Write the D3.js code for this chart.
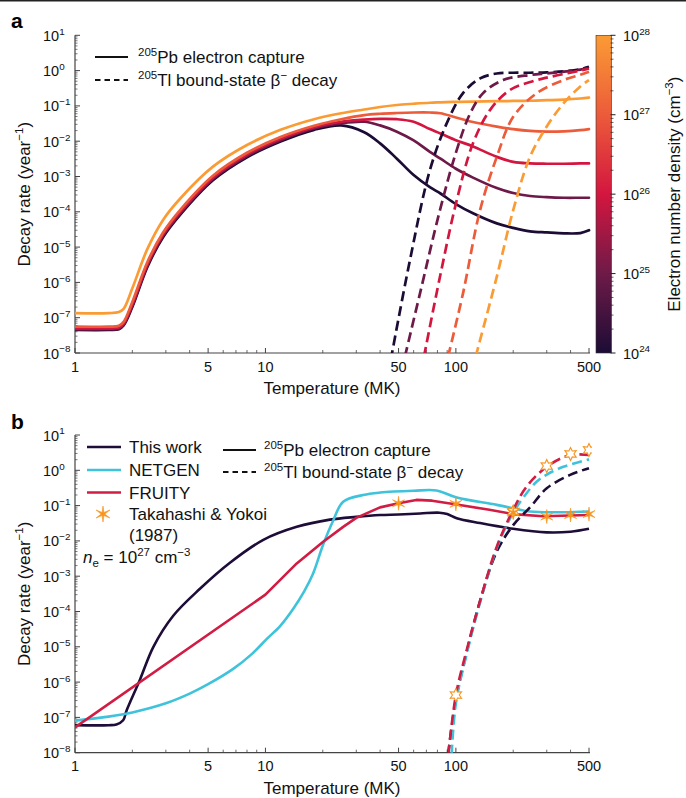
<!DOCTYPE html>
<html><head><meta charset="utf-8">
<script src="https://cdn.jsdelivr.net/npm/d3@7"></script>
<style>
body{margin:0;background:#fff}
svg{display:block;font-family:"Liberation Sans",Arial,Helvetica,sans-serif}
</style>
</head><body>
<svg id="c" width="686" height="798"></svg>
<script>
// ---------------- DATA ----------------
const densities = [1e24, 1e25, 1e26, 1e27, 1e28];
const densityColors = ["#1c0c35", "#6e1a48", "#d3163f", "#ec5b3a", "#fb9b34"];

// Panel a: 205Pb electron capture (solid), shared temperature grid (MK)
const tempA = [1,1.5,1.7,1.8,2.0,2.4,2.9,3.6,5.3,8,12,18,25,33,40,49,60,73,83,100,123,164,200,245,300,370,450,500];
const ecNe24 = [4.5e-8,4.5e-8,4.7e-8,6.0e-8,2.0e-7,2.75e-6,1.9e-5,8.7e-5,7.8e-4,3.5e-3,9.8e-3,2.1e-2,2.8e-2,1.8e-2,8.7e-3,3.2e-3,1.1e-3,5.0e-4,3.3e-4,1.66e-4,9.1e-5,4.7e-5,3.5e-5,2.8e-5,2.6e-5,2.45e-5,2.5e-5,3.0e-5];
const ecNe25 = [4.7e-8,4.7e-8,4.9e-8,6.3e-8,2.2e-7,3.0e-6,2.1e-5,9.5e-5,8.5e-4,3.8e-3,1.07e-2,2.3e-2,3.2e-2,3.55e-2,2.8e-2,1.86e-2,1.05e-2,5.0e-3,3.2e-3,1.66e-3,9.3e-4,4.7e-4,3.4e-4,2.8e-4,2.6e-4,2.5e-4,2.5e-4,2.5e-4];
const ecNe26 = [5.0e-8,5.0e-8,5.25e-8,6.8e-8,2.4e-7,3.3e-6,2.3e-5,1.05e-4,9.3e-4,4.2e-3,1.17e-2,2.5e-2,3.55e-2,4.1e-2,4.3e-2,4.2e-2,3.55e-2,2.2e-2,1.66e-2,1.07e-2,7.1e-3,3.6e-3,2.6e-3,2.35e-3,2.3e-3,2.3e-3,2.35e-3,2.35e-3];
const ecNe27 = [5.6e-8,5.6e-8,5.9e-8,7.6e-8,2.8e-7,3.8e-6,2.6e-5,1.2e-4,1.05e-3,4.7e-3,1.32e-2,2.75e-2,4.2e-2,5.5e-2,6.0e-2,6.3e-2,6.5e-2,6.5e-2,6.2e-2,4.7e-2,3.5e-2,2.6e-2,2.2e-2,1.95e-2,1.86e-2,1.9e-2,2.05e-2,2.2e-2];
const ecNe28 = [1.35e-7,1.35e-7,1.45e-7,1.78e-7,6.8e-7,8.9e-6,5.9e-5,2.5e-4,1.9e-3,7.8e-3,2.1e-2,4.2e-2,6.2e-2,7.9e-2,9.3e-2,0.106,0.115,0.123,0.126,0.130,0.133,0.136,0.138,0.140,0.145,0.151,0.162,0.171];

// Panel a: 205Tl bound-state beta decay (dashed)
const bsT24 = [45.5,57.4,73,89.5,109,134,164,200,245,300,370,450,500];
const bsNe24 = [6.3e-9,4.3e-6,1.5e-3,3.2e-2,0.23,0.60,0.83,0.87,0.87,0.89,0.95,1.10,1.28];
const bsT25 = [54,64.8,82.5,101,119,139,177,245,300,370,450,500];
const bsNe25 = [7.9e-9,4.9e-7,1.12e-4,5.6e-3,6.2e-2,0.23,0.54,0.75,0.83,0.93,1.07,1.20];
const bsT26 = [68,82.5,101,123,151,192,266,300,370,450,500];
const bsNe26 = [7.9e-9,1.45e-6,2.1e-4,8.7e-3,7.6e-2,0.28,0.54,0.63,0.81,1.0,1.15];
const bsT27 = [91,109,134,164,200,266,367,450,500];
const bsNe27 = [7.9e-9,4.9e-7,1.12e-4,3.6e-3,4.9e-2,0.23,0.54,0.76,0.93];
const bsT28 = [127,164,200,245,300,367,449,500];
const bsNe28 = [7.9e-9,1.45e-6,1.12e-4,3.6e-3,2.6e-2,0.117,0.35,0.54];

// Panel b (n_e = 1e27)
const twT = [1,1.5,1.65,1.79,1.87,2.19,2.58,3.28,4.53,6.51,9.75,14.6,21.8,30,40,50,65,82,90,101,134,200,300,400,500];
const twEC = [6.0e-8,6.0e-8,6.3e-8,8.3e-8,1.62e-7,1.15e-6,1.0e-5,7.6e-5,4.4e-4,2.4e-3,1.07e-2,2.5e-2,4.0e-2,4.8e-2,5.4e-2,5.6e-2,6.0e-2,6.3e-2,5.75e-2,4.4e-2,3.2e-2,2.2e-2,1.74e-2,1.82e-2,2.2e-2];
const ngT = [1,1.5,2.0,3.0,4.0,5.0,6.8,8.5,10.2,12,14,16,17.8,20.1,22.7,25.6,32.6,40,60,79,101,164,245,367,500];
const ngEC = [8.1e-8,1.05e-7,1.38e-7,2.5e-7,4.7e-7,8.7e-7,2.4e-6,6.3e-6,1.7e-5,4.0e-5,1.2e-4,3.8e-4,1.2e-3,7.9e-3,3.8e-2,0.129,0.20,0.234,0.263,0.269,0.17,0.105,6.8e-2,6.5e-2,6.8e-2];
const frT = [1,10,14.6,20.1,25.6,30,40,50,62,75,101,150,200,287,400,500];
const frEC = [5.2e-8,3.0e-4,2.3e-3,9.5e-3,2.5e-2,4.5e-2,8.9e-2,0.116,0.145,0.138,0.107,7.6e-2,5.75e-2,5.0e-2,5.25e-2,5.4e-2];
const frBsT = [91.3,100,114,134,164,200,235,300,398,500];
const frBs = [8.9e-9,4.3e-7,8.1e-6,2.0e-4,6.9e-3,7.6e-2,0.343,1.26,2.7,2.7];
const ngBsT = [95,100,114,134,164,200,235,266,300,367,500];
const ngBs = [8.9e-9,2.5e-7,6.3e-6,1.8e-4,6.3e-3,6.3e-2,0.224,0.48,0.76,1.26,2.04];
const twBsT = [91,100,114,134,164,200,245,300,398,500];
const twBs = [8.9e-9,3.2e-7,7.1e-6,2.0e-4,5.0e-3,2.8e-2,8.9e-2,0.31,0.74,1.15];
const tyEcT = [50,100,200,300,400,500];
const tyEc = [0.116,0.112,6.3e-2,4.9e-2,5.4e-2,5.75e-2];
const tyBsT = [100,200,300,400,500];
const tyBs = [4.3e-7,6.8e-2,1.32,2.9,3.76];

const xTicks = [1,5,10,50,100,500];
const yDecades = [-8,-7,-6,-5,-4,-3,-2,-1,0,1];
const cbDecades = [24,25,26,27,28];

// ---------------- LAYOUT ----------------
const svg = d3.select("#c");
const X0 = 75, X1 = 589;
const panels = {a:{top:35.3, bottom:353}, b:{top:435, bottom:752.7}};
const x = d3.scaleLog().domain([1,500]).range([X0,X1]);
const yA = d3.scaleLog().domain([1e-8,10]).range([panels.a.bottom, panels.a.top]);
const yB = d3.scaleLog().domain([1e-8,10]).range([panels.b.bottom, panels.b.top]);
const cScale = d3.scaleLog().domain(densities).range(densityColors).interpolate(d3.interpolateRgb);

const C_TW = "#1e0d38", C_NG = "#3fc3db", C_FR = "#d11c44", C_TY = "#f7941d";
const axisColor = "#444";
const smooth = d3.curveCatmullRom.alpha(0.5);

svg.append("rect").attr("x",0).attr("y",0).attr("width",686).attr("height",1.5).attr("fill","#222");

function zip(ts, vs){ return ts.map((t,i)=>({t, v:vs[i]})); }

function supText(g, xx, yy, base, sup, size, anchor){
  const t = g.append("text").attr("x",xx).attr("y",yy).attr("font-size",size).attr("fill","#111")
    .attr("text-anchor",anchor||"start");
  t.append("tspan").text(base);
  t.append("tspan").attr("font-size",size*0.68).attr("dy",-size*0.42).text(sup);
  return t;
}

function drawAxes(y, p, id){
  const g = svg.append("g");
  g.append("line").attr("x1",X0).attr("x2",X1+1).attr("y1",p.bottom).attr("y2",p.bottom)
    .attr("stroke",axisColor).attr("stroke-width",1.2);
  g.append("line").attr("x1",X0).attr("x2",X0).attr("y1",p.top).attr("y2",p.bottom)
    .attr("stroke",axisColor).attr("stroke-width",1.2);
  const xMinor = [];
  [1,10,100].forEach(d=>{ for(let k=2;k<=9;k++){ const v=d*k; if(v<500 && !xTicks.includes(v)) xMinor.push(v);} });
  g.selectAll(null).data(xTicks).enter().append("line")
    .attr("x1",d=>x(d)).attr("x2",d=>x(d)).attr("y1",p.bottom).attr("y2",p.bottom-5)
    .attr("stroke",axisColor).attr("stroke-width",1);
  g.selectAll(null).data(xMinor).enter().append("line")
    .attr("x1",d=>x(d)).attr("x2",d=>x(d)).attr("y1",p.bottom).attr("y2",p.bottom-3)
    .attr("stroke",axisColor).attr("stroke-width",0.8);
  g.selectAll(null).data(xTicks).enter().append("text")
    .attr("x",d=>x(d)).attr("y",p.bottom+18.5).attr("text-anchor","middle")
    .attr("font-size",14.5).attr("fill","#111").text(d=>d);
  const yMinor = [];
  yDecades.slice(0,-1).forEach(d=>{ for(let k=2;k<=9;k++) yMinor.push(k*Math.pow(10,d)); });
  g.selectAll(null).data(yDecades).enter().append("line")
    .attr("x1",X0).attr("x2",X0+5).attr("y1",d=>y(Math.pow(10,d))).attr("y2",d=>y(Math.pow(10,d)))
    .attr("stroke",axisColor).attr("stroke-width",1);
  g.selectAll(null).data(yMinor).enter().append("line")
    .attr("x1",X0).attr("x2",X0+2.5).attr("y1",d=>y(d)).attr("y2",d=>y(d))
    .attr("stroke",axisColor).attr("stroke-width",0.7);
  yDecades.forEach(d=>{
    supText(g, 43, y(Math.pow(10,d))+5.5, "10", d<0?("\u2212"+(-d)):String(d), 14.5);
  });
  g.append("text").attr("x",(X0+X1)/2).attr("y",p.bottom+41).attr("text-anchor","middle")
    .attr("font-size",17).attr("fill","#111").text("Temperature (MK)");
  const yt = g.append("text").attr("transform",`translate(30,${(p.top+p.bottom)/2}) rotate(-90)`)
    .attr("text-anchor","middle").attr("font-size",17).attr("fill","#111");
  yt.append("tspan").text("Decay rate (year");
  yt.append("tspan").attr("font-size",11.5).attr("dy",-7).text("\u22121");
  yt.append("tspan").attr("dy",7).text(")");
  svg.append("clipPath").attr("id",id).append("rect")
    .attr("x",X0).attr("y",p.top-20).attr("width",X1-X0+3).attr("height",p.bottom-p.top+20);
}

drawAxes(yA, panels.a, "clipA");
drawAxes(yB, panels.b, "clipB");

svg.append("text").attr("x",11).attr("y",28).attr("font-size",21).attr("font-weight","bold").text("a");
svg.append("text").attr("x",11).attr("y",429).attr("font-size",21).attr("font-weight","bold").text("b");

// ---------------- PANEL A ----------------
const lineA = d3.line().x(d=>x(d.t)).y(d=>yA(d.v)).curve(smooth);
const gA = svg.append("g").attr("clip-path","url(#clipA)");
const ecA = [ecNe24, ecNe25, ecNe26, ecNe27, ecNe28];
const bsA = [[bsT24,bsNe24],[bsT25,bsNe25],[bsT26,bsNe26],[bsT27,bsNe27],[bsT28,bsNe28]];
ecA.forEach((vals,i)=>{
  gA.append("path").attr("d",lineA(zip(tempA,vals))).attr("fill","none")
    .attr("stroke",cScale(densities[i])).attr("stroke-width",2.7).attr("stroke-linecap","round");
});
bsA.forEach((tv,i)=>{
  gA.append("path").attr("d",lineA(zip(tv[0],tv[1]))).attr("fill","none")
    .attr("stroke",cScale(densities[i])).attr("stroke-width",2.7).attr("stroke-dasharray","10,5");
});

const lgA = svg.append("g");
lgA.append("line").attr("x1",95).attr("x2",128).attr("y1",57).attr("y2",57).attr("stroke","#111").attr("stroke-width",2);
lgA.append("line").attr("x1",95).attr("x2",128).attr("y1",80).attr("y2",80).attr("stroke","#111").attr("stroke-width",2).attr("stroke-dasharray","5.5,4");
function legendIso(g, xx, yy, iso, rest){
  const t = g.append("text").attr("x",xx).attr("y",yy).attr("font-size",17).attr("fill","#111");
  t.append("tspan").attr("font-size",11.5).attr("dy",-7).text(iso);
  t.append("tspan").attr("dy",7).text(rest);
  return t;
}
legendIso(lgA,138,63,"205","Pb electron capture");
const tl = legendIso(lgA,138,86,"205","Tl bound-state \u03b2");
tl.append("tspan").attr("font-size",11.5).attr("dy",-7).text("\u2212");
tl.append("tspan").attr("dy",7).text(" decay");

// colorbar
const cbX = 596, cbW = 15.5;
const cbY = d3.scaleLog().domain([1e24,1e28]).range([panels.a.bottom, panels.a.top]);
const grad = svg.append("defs").append("linearGradient").attr("id","cbg")
  .attr("x1",0).attr("y1",1).attr("x2",0).attr("y2",0);
densities.forEach((d,i)=>{
  grad.append("stop").attr("offset",i/(densities.length-1)).attr("stop-color",cScale(d));
});
svg.append("rect").attr("x",cbX).attr("y",cbY(1e28)).attr("width",cbW).attr("height",cbY(1e24)-cbY(1e28))
  .attr("fill","url(#cbg)").attr("stroke","#333").attr("stroke-width",0.6);
const cbMinor = [];
cbDecades.slice(0,-1).forEach(d=>{ for(let k=2;k<=9;k++) cbMinor.push(k*Math.pow(10,d)); });
svg.selectAll(null).data(cbDecades).enter().append("line")
  .attr("x1",cbX+cbW-1).attr("x2",cbX+cbW+4).attr("y1",d=>cbY(Math.pow(10,d))).attr("y2",d=>cbY(Math.pow(10,d)))
  .attr("stroke","#222").attr("stroke-width",1);
svg.selectAll(null).data(cbMinor).enter().append("line")
  .attr("x1",cbX+cbW-1).attr("x2",cbX+cbW+2).attr("y1",d=>cbY(d)).attr("y2",d=>cbY(d))
  .attr("stroke","#222").attr("stroke-width",0.7);
cbDecades.forEach(d=>{ supText(svg, 623, cbY(Math.pow(10,d))+5.5, "10", String(d), 14.5); });
const cbt = svg.append("text").attr("transform",`translate(680,${(panels.a.top+panels.a.bottom)/2}) rotate(-90)`)
  .attr("text-anchor","middle").attr("font-size",17).attr("fill","#111");
cbt.append("tspan").text("Electron number density (cm");
cbt.append("tspan").attr("font-size",11.5).attr("dy",-7).text("\u22123");
cbt.append("tspan").attr("dy",7).text(")");

// ---------------- PANEL B ----------------
const lineB = d3.line().x(d=>x(d.t)).y(d=>yB(d.v)).curve(smooth);
const lineBlin = d3.line().x(d=>x(d.t)).y(d=>yB(d.v)).curve(d3.curveLinear);
const gB = svg.append("g").attr("clip-path","url(#clipB)");
function pathB(ts, vs, col, dashed, gen){
  const p = gB.append("path").attr("d",(gen||lineB)(zip(ts,vs))).attr("fill","none")
    .attr("stroke",col).attr("stroke-width",2.6).attr("stroke-linejoin","round");
  if(dashed) p.attr("stroke-dasharray","10,5");
}
pathB(twT, twEC, C_TW, false);
pathB(ngT, ngEC, C_NG, false);
pathB(frT, frEC, C_FR, false, lineBlin);
pathB(twBsT, twBs, C_TW, true);
pathB(ngBsT, ngBs, C_NG, true);
pathB(frBsT, frBs, C_FR, true);

function starPath(ro, ri){
  const pts = [];
  for(let k=0;k<12;k++){
    const a = -Math.PI/2 + k*Math.PI/6;
    const r = k%2===0 ? ro : ri;
    pts.push([r*Math.cos(a), r*Math.sin(a)]);
  }
  return "M"+pts.map(p=>p[0].toFixed(2)+","+p[1].toFixed(2)).join("L")+"Z";
}
gB.selectAll(null).data(zip(tyBsT,tyBs)).enter().append("path")
  .attr("transform",d=>`translate(${x(d.t)},${yB(d.v)})`)
  .attr("d",starPath(6.5,3.4)).attr("fill","#fff").attr("stroke",C_TY).attr("stroke-width",1.1);
svg.selectAll(null).data(zip(tyEcT,tyEc)).enter().append("path")
  .attr("transform",d=>`translate(${x(d.t)},${yB(d.v)})`)
  .attr("d",starPath(7,1.6)).attr("fill",C_TY).attr("stroke",C_TY).attr("stroke-width",0.6);

const lgB = svg.append("g");
[["This work",C_TW,447],["NETGEN",C_NG,470],["FRUITY",C_FR,492.5]].forEach(r=>{
  lgB.append("line").attr("x1",87).attr("x2",121).attr("y1",r[2]).attr("y2",r[2]).attr("stroke",r[1]).attr("stroke-width",2.6);
  lgB.append("text").attr("x",129).attr("y",r[2]+6).attr("font-size",17).attr("fill","#111").text(r[0]);
});
lgB.append("path").attr("transform","translate(103,514)").attr("d",starPath(8,1.8)).attr("fill",C_TY).attr("stroke",C_TY).attr("stroke-width",0.6);
lgB.append("text").attr("x",129).attr("y",520).attr("font-size",17).attr("fill","#111").text("Takahashi & Yokoi");
lgB.append("text").attr("x",129).attr("y",541).attr("font-size",17).attr("fill","#111").text("(1987)");
const ne = lgB.append("text").attr("x",83).attr("y",563).attr("font-size",17).attr("fill","#111");
ne.append("tspan").attr("font-style","italic").text("n");
ne.append("tspan").attr("font-size",11.5).attr("dy",4).text("e");
ne.append("tspan").attr("dy",-4).text(" = 10");
ne.append("tspan").attr("font-size",11.5).attr("dy",-7).text("27");
ne.append("tspan").attr("dy",7).text(" cm");
ne.append("tspan").attr("font-size",11.5).attr("dy",-7).text("\u22123");

lgB.append("line").attr("x1",223).attr("x2",256).attr("y1",450).attr("y2",450).attr("stroke","#111").attr("stroke-width",2);
lgB.append("line").attr("x1",223).attr("x2",256).attr("y1",472).attr("y2",472).attr("stroke","#111").attr("stroke-width",2).attr("stroke-dasharray","5.5,4");
legendIso(lgB,264,456,"205","Pb electron capture");
const tl2 = legendIso(lgB,264,478,"205","Tl bound-state \u03b2");
tl2.append("tspan").attr("font-size",11.5).attr("dy",-7).text("\u2212");
tl2.append("tspan").attr("dy",7).text(" decay");
</script>
</body></html>
